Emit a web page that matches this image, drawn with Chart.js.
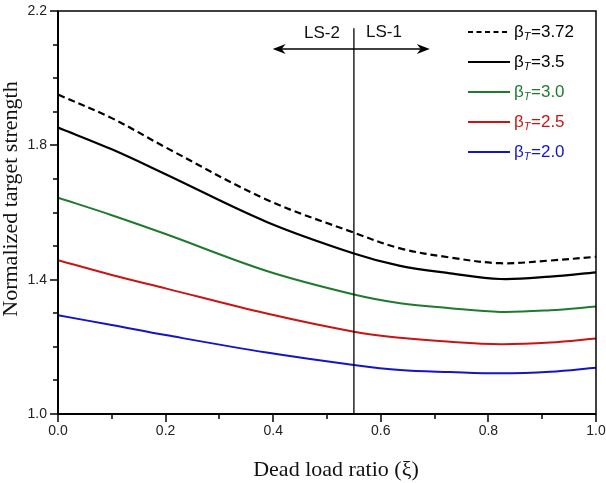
<!DOCTYPE html>
<html><head><meta charset="utf-8">
<script src="https://cdn.jsdelivr.net/npm/chart.js@4.4.1/dist/chart.umd.min.js"></script>
<style>html,body{margin:0;padding:0;background:#fff;}#wrap{width:606px;height:483px;position:relative;}</style>
</head><body><div id="wrap"><canvas id="c" width="606" height="483"></canvas></div>
<script>
// ---- data ----
const xiValues  = [0, 0.1, 0.2, 0.388, 0.55, 0.636, 0.729, 0.822, 0.915, 1.0];
const beta372   = [1.951, 1.881, 1.794, 1.638, 1.540, 1.493, 1.466, 1.449, 1.457, 1.468];
const beta35    = [1.853, 1.788, 1.714, 1.572, 1.478, 1.441, 1.419, 1.402, 1.409, 1.422];
const beta30    = [1.644, 1.592, 1.536, 1.426, 1.356, 1.330, 1.315, 1.304, 1.309, 1.320];
const beta25    = [1.458, 1.414, 1.374, 1.299, 1.245, 1.227, 1.215, 1.208, 1.213, 1.225];
const beta20    = [1.294, 1.265, 1.235, 1.183, 1.146, 1.131, 1.125, 1.121, 1.126, 1.138];
const betaLabels = ['3.72', '3.5', '3.0', '2.5', '2.0'];
const xTickLabels = ['0.0', '0.2', '0.4', '0.6', '0.8', '1.0'];
const yTickLabels = ['1.0', '1.4', '1.8', '2.2'];
const boundaryXi = 0.55;          // LS-2 / LS-1 boundary
const arrowFromXi = 0.399, arrowToXi = 0.691, arrowY = 2.087, boundaryTop = 2.149;

const colors = ['#000000', '#000000', '#1f7a2e', '#c81414', '#1414c8'];
const dashes = [[7, 4], [], [], [], []];
const series = [beta372, beta35, beta30, beta25, beta20];

const datasets = series.map((s, i) => ({
  label: 'βT=' + betaLabels[i],
  data: xiValues.map((x, j) => ({ x: x, y: s[j] })),
  borderColor: colors[i],
  borderWidth: i < 2 ? 2.2 : 2,
  borderDash: dashes[i],
  pointRadius: 0,
  fill: false,
  tension: 0.35
}));

const fmt = v => (Math.round(v * 10) / 10).toFixed(1);
const noPad = s => { s.paddingLeft = 0; s.paddingRight = 0; s.paddingTop = 0; s.paddingBottom = 0; };

const decor = {
  id: 'decor',
  afterDraw(chart) {
    const ctx = chart.ctx, a = chart.chartArea;
    const xs = chart.scales.x, ys = chart.scales.y;
    ctx.save();
    // frame
    ctx.strokeStyle = '#000';
    ctx.lineWidth = 1.5;
    ctx.strokeRect(a.left, a.top, a.right - a.left, a.bottom - a.top);
    ctx.lineWidth = 2;
    ctx.beginPath();
    ctx.moveTo(a.left, a.top); ctx.lineTo(a.left, a.bottom); ctx.lineTo(a.right, a.bottom);
    ctx.stroke();
    // ticks
    ctx.lineWidth = 1.5;
    for (let k = 0; k <= 10; k++) {
      const v = k / 10, px = Math.round(xs.getPixelForValue(v));
      const len = (k % 2 === 0) ? 8 : 5;
      ctx.beginPath(); ctx.moveTo(px, a.bottom); ctx.lineTo(px, a.bottom + len); ctx.stroke();
    }
    for (let k = 0; k <= 12; k++) {
      const v = 1 + k / 10, py = Math.round(ys.getPixelForValue(v));
      const len = (k % 4 === 0) ? 8 : 5;
      ctx.beginPath(); ctx.moveTo(a.left, py); ctx.lineTo(a.left - len, py); ctx.stroke();
    }
    // boundary line
    const bx = xs.getPixelForValue(boundaryXi);
    ctx.lineWidth = 1.3;
    ctx.beginPath(); ctx.moveTo(bx, ys.getPixelForValue(boundaryTop)); ctx.lineTo(bx, a.bottom); ctx.stroke();
    // arrow
    const ay = ys.getPixelForValue(arrowY);
    const x1 = xs.getPixelForValue(arrowFromXi), x2 = xs.getPixelForValue(arrowToXi);
    ctx.lineWidth = 1.5;
    ctx.beginPath(); ctx.moveTo(x1 + 6, ay); ctx.lineTo(x2 - 6, ay); ctx.stroke();
    ctx.fillStyle = '#000';
    const head = (tx, dir) => {
      ctx.beginPath();
      ctx.moveTo(tx, ay);
      ctx.lineTo(tx - dir * 13, ay - 5);
      ctx.lineTo(tx - dir * 9, ay);
      ctx.lineTo(tx - dir * 13, ay + 5);
      ctx.closePath(); ctx.fill();
    };
    head(x2, 1); head(x1, -1);
    // LS labels
    ctx.font = '17px "Liberation Sans", Arial, sans-serif';
    ctx.textAlign = 'center'; ctx.textBaseline = 'middle';
    ctx.fillStyle = '#111';
    ctx.fillText('LS-2', bx - 32, ay - 16);
    ctx.fillText('LS-1', bx + 30, ay - 17);
    // legend
    const lx0 = 468, lx1 = 510, ly0 = 32, dy = 30;
    datasets.forEach((d, i) => {
      const y = ly0 + dy * i;
      ctx.strokeStyle = colors[i];
      ctx.lineWidth = 2;
      ctx.setLineDash(i === 0 ? [5, 3.5] : []);
      ctx.beginPath(); ctx.moveTo(lx0, y); ctx.lineTo(lx1, y); ctx.stroke();
      ctx.setLineDash([]);
      ctx.fillStyle = colors[i];
      ctx.textAlign = 'left'; ctx.textBaseline = 'middle';
      ctx.font = '17px "Liberation Sans", Arial, sans-serif';
      let tx = lx1 + 4;
      ctx.fillText('β', tx, y);
      tx += ctx.measureText('β').width;
      ctx.font = 'italic 11px "Liberation Sans", Arial, sans-serif';
      ctx.fillText('T', tx, y + 5);
      tx += ctx.measureText('T').width + 0.5;
      ctx.font = '17px "Liberation Sans", Arial, sans-serif';
      ctx.fillText('=' + betaLabels[i], tx, y);
    });
    // axis titles
    ctx.fillStyle = '#111';
    ctx.font = '22px "Liberation Serif", "Times New Roman", serif';
    ctx.textAlign = 'center'; ctx.textBaseline = 'middle';
    ctx.fillText('Dead load ratio (ξ)', 336, 470);
    ctx.translate(11, 199);
    ctx.rotate(-Math.PI / 2);
    ctx.fillText('Normalized target strength', 0, 0);
    ctx.restore();
  }
};

new Chart(document.getElementById('c'), {
  type: 'line',
  data: { datasets },
  options: {
    responsive: false,
    animation: false,
    devicePixelRatio: 1,
    layout: { padding: { top: 11, right: 10, left: 0, bottom: 0 } },
    plugins: { legend: { display: false }, tooltip: { enabled: false } },
    scales: {
      x: {
        type: 'linear', min: 0, max: 1,
        afterFit: s => { s.height = 69; noPad(s); },
        border: { display: false },
        grid: { display: false, drawTicks: false },
        ticks: {
          stepSize: 0.2, autoSkip: false, maxRotation: 0, padding: 9,
          color: '#222', font: { family: '"Liberation Sans", Arial, sans-serif', size: 14 },
          callback: v => { const s = fmt(v); return xTickLabels.includes(s) ? s : ''; }
        }
      },
      y: {
        type: 'linear', min: 1.0, max: 2.2,
        afterFit: s => { s.width = 58; noPad(s); },
        border: { display: false },
        grid: { display: false, drawTicks: false },
        ticks: {
          stepSize: 0.4, autoSkip: false, padding: 11,
          color: '#222', font: { family: '"Liberation Sans", Arial, sans-serif', size: 14 },
          callback: v => { const s = fmt(v); return yTickLabels.includes(s) ? s : ''; }
        }
      }
    }
  },
  plugins: [decor]
});
</script>
</body></html>
